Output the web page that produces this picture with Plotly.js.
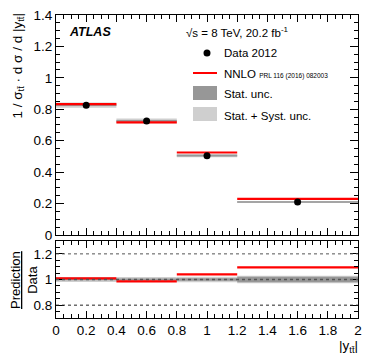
<!DOCTYPE html>
<html>
<head>
<meta charset="utf-8">
<script src="https://cdn.plot.ly/plotly-3.0.1.min.js"></script>
<style>html,body{margin:0;padding:0;background:#fff;}#chart{width:374px;height:360px;}</style>
</head>
<body>
<div id="chart"></div>
<script>
// Bin edges in |y_tt|
var binLow  = [0.0, 0.4, 0.8, 1.2];
var binHigh = [0.4, 0.8, 1.2, 2.0];
// Normalised cross section (data) and NNLO prediction
var dataVals = [0.826, 0.726, 0.505, 0.210];
var nnloVals = [0.833, 0.716, 0.525, 0.230];
// Relative uncertainties
var relStat  = [0.006, 0.008, 0.010, 0.022];
var relTotal = [0.020, 0.020, 0.022, 0.030];
// Tick labels
var xTicks = [0, 0.2, 0.4, 0.6, 0.8, 1, 1.2, 1.4, 1.6, 1.8, 2];
var yTicks = [0, 0.2, 0.4, 0.6, 0.8, 1, 1.2, 1.4];
var rTicks = [0.8, 1, 1.2];

var centers = [], widths = [];
for (var i = 0; i < binLow.length; i++) {
  centers.push((binLow[i] + binHigh[i]) / 2);
  widths.push(binHigh[i] - binLow[i]);
}
function bandBar(vals, rel, color, xa, ya, asRatio) {
  var base = [], h = [];
  for (var i = 0; i < vals.length; i++) {
    var c = asRatio ? 1 : vals[i];
    var e = asRatio ? rel[i] : rel[i] * vals[i];
    base.push(c - e); h.push(2 * e);
  }
  return {type: 'bar', x: centers, y: h, base: base, width: widths,
    marker: {color: color, line: {width: 0}}, xaxis: xa, yaxis: ya,
    hoverinfo: 'skip', showlegend: false};
}
function stepLine(vals, xa, ya) {
  var xs = [], ys = [];
  for (var i = 0; i < vals.length; i++) {
    xs.push(binLow[i], binHigh[i], null);
    ys.push(vals[i], vals[i], null);
  }
  return {type: 'scatter', mode: 'lines', x: xs, y: ys, xaxis: xa, yaxis: ya,
    line: {color: '#ff0000', width: 2.2}, hoverinfo: 'skip', showlegend: false};
}
var ratio = [];
for (var i = 0; i < dataVals.length; i++) ratio.push(nnloVals[i] / dataVals[i]);

var traces = [
  bandBar(dataVals, relTotal, '#cfcfcf', 'x', 'y', false),
  bandBar(dataVals, relStat, '#979797', 'x', 'y', false),
  stepLine(nnloVals, 'x', 'y'),
  {type: 'scatter', mode: 'markers', x: centers, y: dataVals, xaxis: 'x', yaxis: 'y',
    marker: {color: '#000', size: 7}, hoverinfo: 'skip', showlegend: false},
  bandBar(ratio, relTotal, '#cfcfcf', 'x2', 'y2', true),
  bandBar(ratio, relStat, '#979797', 'x2', 'y2', true),
  stepLine(ratio, 'x2', 'y2')
];

// pixel helpers for annotation placement
var L = 56, R = 358, T = 15, B = 318;
function px(x) { return (x - L) / (R - L); }
function py(y) { return (B - y) / (B - T); }

var font = 'Liberation Sans, Arial, sans-serif';
var axCommon = {
  showgrid: false, zeroline: false, showline: true, linecolor: '#000', linewidth: 1,
  mirror: 'allticks', ticks: 'inside', tickcolor: '#000', tickwidth: 1,
  tickfont: {family: font, size: 13.5, color: '#000'}
};
function ax(extra) { var o = {}; for (var k in axCommon) o[k] = axCommon[k]; for (var k in extra) o[k] = extra[k]; return o; }

var layout = {
  width: 374, height: 360,
  margin: {l: L, r: 374 - R, t: T, b: 360 - B},
  paper_bgcolor: '#fff', plot_bgcolor: '#fff',
  barmode: 'overlay', showlegend: false,
  xaxis: ax({domain: [0, 1], range: [0, 2], anchor: 'y', tickvals: xTicks, showticklabels: false,
    ticklen: 7, minor: {dtick: 0.05, ticklen: 4, ticks: 'inside', tickcolor: '#000', showgrid: false}}),
  yaxis: ax({domain: [0.274, 1], range: [0, 1.4], anchor: 'x', tickvals: yTicks, ticklen: 8,
    minor: {dtick: 0.05, ticklen: 4, ticks: 'inside', tickcolor: '#000', showgrid: false}}),
  xaxis2: ax({domain: [0, 1], range: [0, 2], anchor: 'y2', tickvals: xTicks, ticklen: 7,
    minor: {dtick: 0.05, ticklen: 4, ticks: 'inside', tickcolor: '#000', showgrid: false}}),
  yaxis2: ax({domain: [0, 0.254], range: [0.7, 1.3], anchor: 'x2', tickvals: rTicks, ticklen: 8,
    minor: {dtick: 0.05, ticklen: 4, ticks: 'inside', tickcolor: '#000', showgrid: false}}),
  shapes: [
    {type: 'line', xref: 'x2', yref: 'y2', x0: 0, x1: 2, y0: 1.2, y1: 1.2, line: {color: '#555', width: 1, dash: 'dot'}},
    {type: 'line', xref: 'x2', yref: 'y2', x0: 0, x1: 2, y0: 0.8, y1: 0.8, line: {color: '#222', width: 1, dash: 'dot'}},
    {type: 'line', xref: 'x2', yref: 'y2', x0: 0, x1: 2, y0: 1, y1: 1, line: {color: '#555', width: 1.5, dash: 'dot'}, layer: 'above'},
    // legend symbols
    {type: 'line', xref: 'paper', yref: 'paper', x0: px(193), x1: px(217), y0: py(73), y1: py(73), line: {color: '#ff0000', width: 2}},
    {type: 'rect', xref: 'paper', yref: 'paper', x0: px(193), x1: px(217), y0: py(86), y1: py(100), fillcolor: '#979797', line: {width: 0}},
    {type: 'rect', xref: 'paper', yref: 'paper', x0: px(193), x1: px(217), y0: py(107), y1: py(121), fillcolor: '#cfcfcf', line: {width: 0}},
    {type: 'circle', xref: 'paper', yref: 'paper', xsizemode: 'pixel', ysizemode: 'pixel',
      xanchor: px(207), yanchor: py(53), x0: -3.5, x1: 3.5, y0: -3.5, y1: 3.5, fillcolor: '#000', line: {width: 0}}
  ],
  annotations: [
    {xref: 'paper', yref: 'paper', x: px(67), y: py(32), xanchor: 'left', yanchor: 'middle', showarrow: false,
      text: '<b><i>ATLAS</i></b>', font: {family: font, size: 12.5, color: '#000'}},
    {xref: 'paper', yref: 'paper', x: px(184), y: py(32), xanchor: 'left', yanchor: 'middle', showarrow: false,
      text: '√s = 8 TeV, 20.2 fb<sup>-1</sup>', font: {family: font, size: 11.5, color: '#000'}},
    {xref: 'paper', yref: 'paper', x: px(222), y: py(53), xanchor: 'left', yanchor: 'middle', showarrow: false,
      text: 'Data 2012', font: {family: font, size: 11.5, color: '#000'}},
    {xref: 'paper', yref: 'paper', x: px(222), y: py(74), xanchor: 'left', yanchor: 'middle', showarrow: false,
      text: 'NNLO <span style="font-size:6.5px">PRL 116 (2016) 082003</span>', font: {family: font, size: 11.5, color: '#000'}},
    {xref: 'paper', yref: 'paper', x: px(222), y: py(94), xanchor: 'left', yanchor: 'middle', showarrow: false,
      text: 'Stat. unc.', font: {family: font, size: 11.5, color: '#000'}},
    {xref: 'paper', yref: 'paper', x: px(222), y: py(116), xanchor: 'left', yanchor: 'middle', showarrow: false,
      text: 'Stat. + Syst. unc.', font: {family: font, size: 11.5, color: '#000'}},
    {xref: 'paper', yref: 'paper', x: px(18), y: py(12), xanchor: 'center', yanchor: 'top', showarrow: false, textangle: -90,
      text: '1 / σ<sub>tt̄</sub> · d σ / d |y<sub>tt̄</sub>|', font: {family: font, size: 13.5, color: '#000'}},
    {xref: 'paper', yref: 'paper', x: px(24), y: py(280), xanchor: 'center', yanchor: 'middle', showarrow: false, textangle: -90,
      text: '<u>Prediction</u><br>Data', font: {family: font, size: 13, color: '#000'}},
    {xref: 'paper', yref: 'paper', x: px(360), y: py(336), xanchor: 'right', yanchor: 'top', showarrow: false,
      text: '|y<sub>tt̄</sub>|', font: {family: font, size: 13.5, color: '#000'}}
  ]
};
Plotly.newPlot('chart', traces, layout, {staticPlot: true, displayModeBar: false});
</script>
</body>
</html>
